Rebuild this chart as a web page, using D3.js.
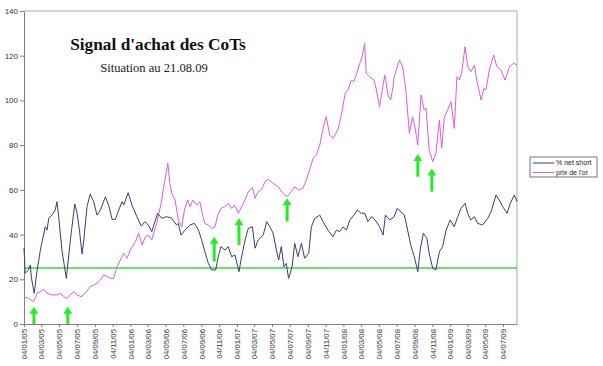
<!DOCTYPE html>
<html>
<head>
<meta charset="utf-8">
<script src="https://cdn.jsdelivr.net/npm/d3@7"></script>
<style>
  body { margin: 0; background: #fff; }
  svg { display: block; }
</style>
</head>
<body>
<div id="chart"></div>
<script>
// dates are given as days since 04/01/05 (first week of the series)
const startDate = new Date(2005, 0, 4);
const endDate = new Date(2009, 7, 21);

const netShortDays = [0, 4, 14, 22, 25, 35, 45, 56, 73, 79, 85, 96, 107, 113, 119, 130, 145, 159, 174, 182,
  190, 199, 205, 216, 227, 239, 250, 262, 279, 290, 302, 313, 325, 336, 342, 357, 370, 387, 402, 415,
  426, 438, 458, 472, 489, 506, 523, 529, 538, 552, 569, 584, 598, 609, 620, 632, 643, 657, 666, 675,
  689, 700, 712, 723, 737, 746, 758, 769, 783, 792, 803, 820, 832, 843, 854, 865, 873, 882, 891, 899,
  907, 919, 928, 939, 951, 962, 976, 985, 997, 1014, 1025, 1042, 1059, 1071, 1082, 1094, 1105, 1117, 1131, 1143,
  1156, 1168, 1179, 1191, 1204, 1219, 1231, 1239, 1254, 1269, 1279, 1292, 1304, 1315, 1327, 1338, 1350, 1358, 1369, 1381,
  1389, 1401, 1412, 1424, 1435, 1447, 1461, 1475, 1487, 1498, 1512, 1521, 1532, 1544, 1555, 1572, 1590, 1601, 1618, 1629,
  1641, 1656, 1667, 1681, 1690];
const netShortValues = [34, 22.7, 24, 26.4, 21, 13.7, 24, 33, 43.5, 42, 47.3, 48.7, 51, 54.7, 48, 33, 20.4, 37.6, 53.7, 49.5,
  42, 31.3, 37.6, 52.5, 58.1, 54.7, 48.7, 51, 56.9, 53.2, 46.8, 46.8, 51, 54.7, 53.2, 58.7, 53.2, 48, 43.8, 45.8,
  44.3, 41.3, 49.5, 47.3, 48, 47.3, 44.3, 45, 39.8, 42, 44.3, 45, 42, 37.6, 32.3, 27.1, 24.2, 24.2, 30.1, 34.6,
  33.1, 34.6, 30.1, 30.9, 23.4, 30.1, 37.6, 42.8, 43.5, 33.9, 37.6, 39.8, 45.8, 43.5, 40.6, 33.1, 28.6, 34.6, 25.6, 27.1,
  20.4, 25.6, 36.1, 30.1, 36.1, 29.4, 31.6, 43.5, 47.3, 48.7, 45.8, 42, 39, 42, 41.3, 43.5, 42, 46.5, 48.7, 51,
  49.5, 49.5, 45.8, 48, 46.5, 43.5, 39.8, 48.7, 46.5, 48, 51.7, 50.2, 48.7, 42, 34.6, 30.1, 23.4, 33.1, 40.6, 38.3,
  31.6, 24.9, 24.2, 32.3, 34.6, 42, 46.5, 43.5, 48, 51.7, 54, 49.5, 46.5, 48, 45, 44.3, 47.3, 50.2, 57.7, 55.4,
  52.5, 49.5, 54, 57.7, 54.7];

const goldDays = [0, 16, 33, 45, 56, 68, 79, 96, 113, 124, 136, 147, 159, 170, 182, 196, 210, 227, 239, 250,
  262, 273, 285, 296, 307, 319, 330, 342, 353, 364, 382, 393, 405, 416, 426, 438, 455, 470, 481, 493,
  500, 506, 518, 529, 541, 550, 561, 569, 580, 592, 603, 611, 620, 632, 643, 655, 664, 675, 689, 700,
  712, 721, 735, 746, 758, 769, 783, 792, 803, 815, 826, 837, 854, 871, 888, 902, 916, 928, 942, 956,
  968, 979, 991, 1002, 1014, 1025, 1036, 1048, 1059, 1076, 1088, 1101, 1111, 1122, 1131, 1139, 1151, 1159, 1168, 1173,
  1185, 1200, 1208, 1219, 1231, 1237, 1248, 1257, 1265, 1269, 1287, 1298, 1309, 1321, 1332, 1340, 1350, 1361, 1372, 1378,
  1389, 1401, 1412, 1424, 1432, 1441, 1452, 1464, 1475, 1484, 1492, 1500, 1512, 1521, 1532, 1544, 1553, 1567, 1576, 1584,
  1595, 1610, 1621, 1635, 1649, 1664, 1679, 1690];
const goldValues = [12.2, 11.5, 10, 13.7, 14.5, 15.5, 13.7, 13, 13, 13.7, 12.2, 11.5, 13, 14.5, 13, 12.2, 13.7, 16.7, 17.4, 18.2,
  19.7, 21.9, 21.2, 20.4, 20.4, 25.6, 28.6, 31.6, 29.4, 33.1, 36.8, 40.6, 35.3, 39, 39.8, 37.6, 45, 54, 62.9, 71.9,
  62.9, 58.4, 55.5, 46.5, 43.5, 51, 55.5, 52.5, 55.5, 53.2, 54.7, 49.5, 45, 44.3, 42.8, 43.5, 48.7, 51.7, 52.5, 54,
  51.7, 53.2, 49.5, 52.5, 55.5, 59.2, 61.1, 56.2, 59.2, 60.2, 63.6, 64.7, 62.9, 61.4, 58.4, 56.9, 59.2, 61.4, 59.9, 60.7,
  64.4, 68.9, 74.1, 75.6, 80.1, 87.5, 92.7, 84.5, 83, 86.8, 93.5, 103.2, 104.7, 109.1, 108.4, 111.4, 116.6, 119.5, 125.5, 112.1,
  110.6, 109.1, 104.7, 97.2, 106.9, 111.4, 102.4, 100.2, 106.1, 110.6, 118.1, 115.1, 104.7, 85.3, 92.7, 88.2, 80.1, 102.4, 95.7, 96.5,
  77.8, 72.6, 76.3, 91.2, 78.6, 92.7, 95.7, 99.4, 87.5, 110.6, 109.1, 112.1, 124, 115.1, 112.8, 115.8, 108.4, 100.2, 105.4, 104.7,
  113.6, 120.3, 115.1, 113.6, 109.1, 115.1, 116.6, 115.8];

// buy signals: day, arrow base value, arrow tip value
const signalDays = [34, 150, 652, 737, 902, 1350, 1398];
const signalBase = [0, 0, 27.9, 35.3, 45.8, 65.9, 59.2];
const signalTip = [7.7, 7.7, 39, 47.3, 56.2, 76, 69.6];

const thresholdValue = 25;

const xTickLabels = ["04/01/05", "04/03/05", "04/05/05", "04/07/05", "04/09/05", "04/11/05",
  "04/01/06", "04/03/06", "04/05/06", "04/07/06", "04/09/06", "04/11/06",
  "04/01/07", "04/03/07", "04/05/07", "04/07/07", "04/09/07", "04/11/07",
  "04/01/08", "04/03/08", "04/05/08", "04/07/08", "04/09/08", "04/11/08",
  "04/01/09", "04/03/09", "04/05/09", "04/07/09"];
const yTicks = [0, 20, 40, 60, 80, 100, 120, 140];

const seriesNames = ["% net short", "prix de l'or"];
const seriesColors = ["#3b3b7a", "#dd5cdd"];

const width = 603, height = 366;
const margin = {top: 11, right: 86, bottom: 42, left: 24};

const svg = d3.select("#chart").append("svg")
    .attr("width", width)
    .attr("height", height);

const toDate = d => d3.timeDay.offset(startDate, d);
const parseTick = d3.timeParse("%d/%m/%y");

const x = d3.scaleTime()
    .domain([startDate, endDate])
    .range([margin.left, width - margin.right]);
const y = d3.scaleLinear()
    .domain([0, 140])
    .range([height - margin.bottom, margin.top]);

// plot area border (top + right)
svg.append("path")
    .attr("d", `M${margin.left},${margin.top}H${width - margin.right}V${height - margin.bottom}`)
    .attr("fill", "none")
    .attr("stroke", "#a8a8a8")
    .attr("stroke-width", 1);

// Y axis
const yAxis = svg.append("g")
    .attr("transform", `translate(${margin.left},0)`)
    .call(d3.axisLeft(y).tickValues(yTicks).tickSize(4).tickSizeOuter(0));
yAxis.select(".domain").attr("stroke", "#808080");
yAxis.selectAll(".tick line").attr("stroke", "#808080");
yAxis.selectAll("text")
    .attr("font-family", "Arial, 'Liberation Sans', sans-serif")
    .attr("font-size", 8)
    .attr("fill", "#333")
    .attr("x", -6);

// X axis
const xAxis = svg.append("g")
    .attr("transform", `translate(0,${height - margin.bottom})`)
    .call(d3.axisBottom(x)
        .tickValues(xTickLabels.map(parseTick))
        .tickFormat(d3.timeFormat("%d/%m/%y"))
        .tickSize(3)
        .tickSizeOuter(0));
xAxis.select(".domain").attr("stroke", "#808080");
xAxis.selectAll(".tick line").attr("stroke", "#808080");
xAxis.selectAll("text")
    .attr("font-family", "Arial, 'Liberation Sans', sans-serif")
    .attr("font-size", 7.8)
    .attr("fill", "#333")
    .attr("text-anchor", "end")
    .attr("transform", "rotate(-90)")
    .attr("x", -5)
    .attr("y", 0)
    .attr("dy", "0.35em");

// threshold line
svg.append("line")
    .attr("x1", x(startDate))
    .attr("x2", x(endDate))
    .attr("y1", y(thresholdValue))
    .attr("y2", y(thresholdValue))
    .attr("stroke", "#33dd33")
    .attr("stroke-width", 1.5);

const line = d3.line()
    .x(d => x(d[0]))
    .y(d => y(d[1]));

const netShort = netShortDays.map((d, i) => [toDate(d), netShortValues[i]]);
const gold = goldDays.map((d, i) => [toDate(d), goldValues[i]]);

svg.append("path")
    .datum(gold)
    .attr("fill", "none")
    .attr("stroke", seriesColors[1])
    .attr("stroke-width", 1)
    .attr("d", line);

svg.append("path")
    .datum(netShort)
    .attr("fill", "none")
    .attr("stroke", seriesColors[0])
    .attr("stroke-width", 1)
    .attr("d", line);

// green arrows
const arrows = svg.append("g").attr("fill", "#22ee22");
signalDays.forEach((d, i) => {
    const ax = x(toDate(d));
    const yb = y(signalBase[i]);
    const yt = y(signalTip[i]);
    const head = 7;
    arrows.append("rect")
        .attr("x", ax - 1.5)
        .attr("y", yt + head - 1)
        .attr("width", 3)
        .attr("height", yb - yt - head + 1);
    arrows.append("path")
        .attr("d", `M${ax},${yt}L${ax + 4.5},${yt + head}L${ax - 4.5},${yt + head}Z`);
});

// titles
svg.append("text")
    .attr("x", 158)
    .attr("y", 50)
    .attr("text-anchor", "middle")
    .attr("font-family", "'Liberation Serif', 'DejaVu Serif', serif")
    .attr("font-weight", "bold")
    .attr("font-size", 17.3)
    .attr("fill", "#111")
    .text("Signal d'achat des CoTs");

svg.append("text")
    .attr("x", 154)
    .attr("y", 72)
    .attr("text-anchor", "middle")
    .attr("font-family", "'Liberation Serif', 'DejaVu Serif', serif")
    .attr("font-size", 12.6)
    .attr("fill", "#222")
    .text("Situation au 21.08.09");

// legend
const legend = svg.append("g").attr("transform", "translate(530,157)");
legend.append("rect")
    .attr("width", 67)
    .attr("height", 20)
    .attr("fill", "#fff")
    .attr("stroke", "#555")
    .attr("stroke-width", 0.8);
seriesNames.forEach((name, i) => {
    const ly = 6 + i * 9.5;
    legend.append("line")
        .attr("x1", 3).attr("x2", 24)
        .attr("y1", ly).attr("y2", ly)
        .attr("stroke", seriesColors[i])
        .attr("stroke-width", 1);
    legend.append("text")
        .attr("x", 26)
        .attr("y", ly)
        .attr("dy", "0.35em")
        .attr("font-family", "Arial, 'Liberation Sans', sans-serif")
        .attr("font-size", 7)
        .attr("fill", "#222")
        .text(name);
});
</script>
</body>
</html>
